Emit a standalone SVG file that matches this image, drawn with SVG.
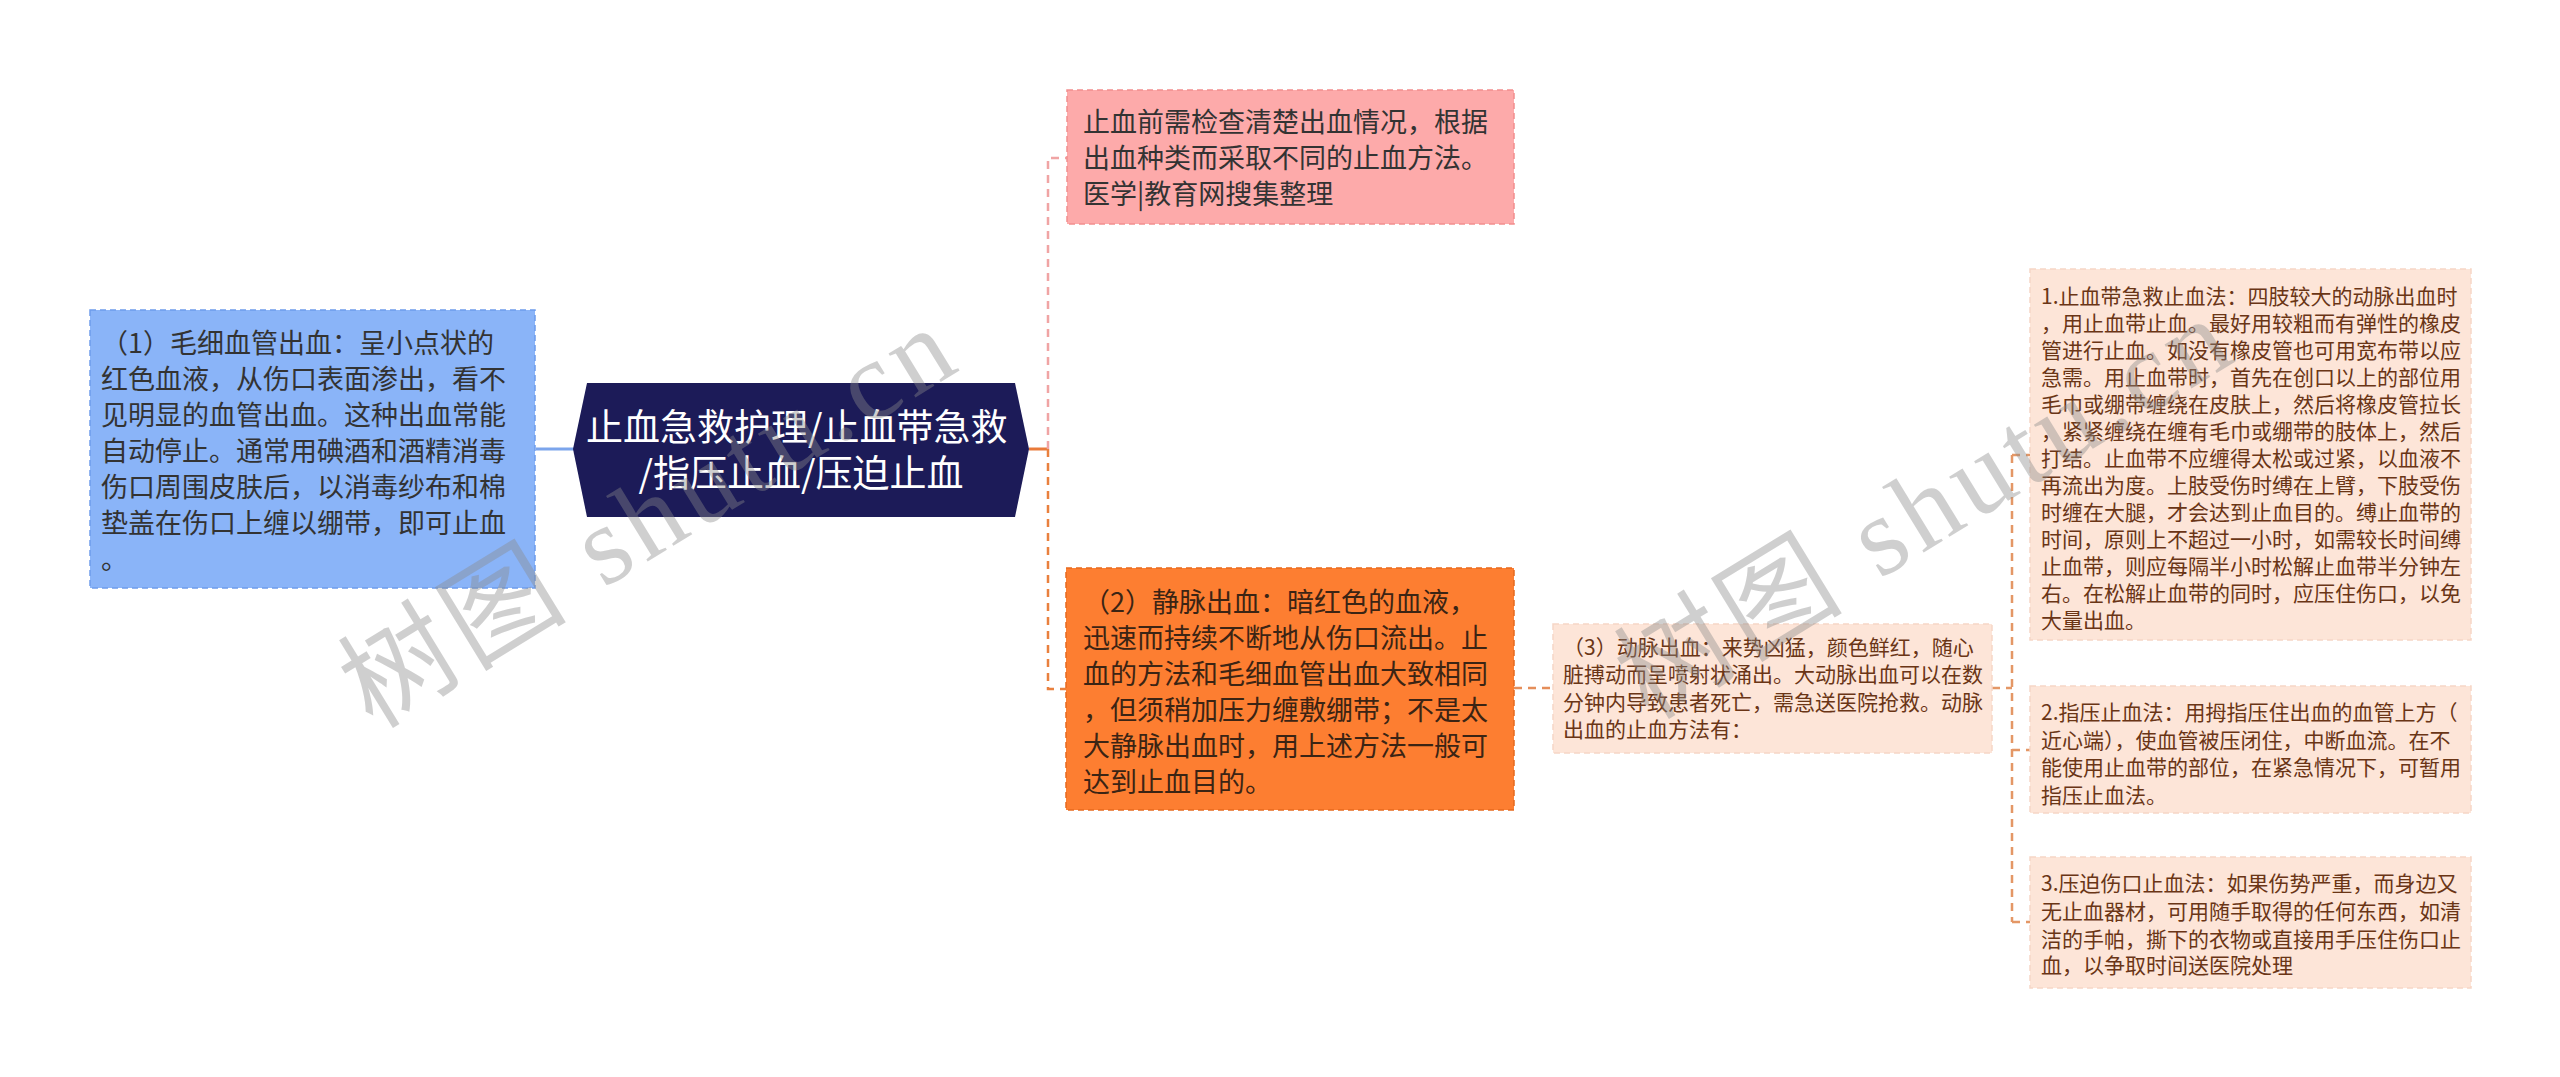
<svg xmlns="http://www.w3.org/2000/svg" width="2560" height="1077" viewBox="0 0 2560 1077">
<style>
text{font-family:"Noto Sans CJK SC","Noto Sans",sans-serif;}
.t27{font-size:27px;}
.t21{font-size:21px;fill:#6a3516;}
.dark{fill:#333333;}
.conn{fill:none;stroke-width:2.5;stroke-dasharray:8 6;}
.box{stroke-width:1.5;stroke-dasharray:6 4;}
.wm{font-family:"Liberation Serif","Noto Sans CJK SC",serif;font-size:112px;fill:#8a8a8a;opacity:0.4;}
</style>
<rect width="2560" height="1077" fill="#ffffff"/>
<g id="connectors">
<line x1="536" y1="449" x2="574" y2="449" stroke="#7ca5ec" stroke-width="3"/>
<line x1="1029" y1="449" x2="1048" y2="449" stroke="#e97a3a" stroke-width="3"/>
<path class="conn" d="M1048 449 V158 H1068" stroke="#f0a4a4"/>
<path class="conn" d="M1048 449 V689 H1066" stroke="#e9803e"/>
<path class="conn" d="M1514 688 H1553" stroke="#e58e5a"/>
<path class="conn" d="M1992 688 H2012" stroke="#e49766"/>
<path class="conn" d="M2012 455 V922" stroke="#e49766"/>
<path class="conn" d="M2012 455 H2030 M2012 750 H2030 M2012 922 H2030" stroke="#e49766"/>
</g>
<g id="node-left">
<rect class="box" x="90" y="310" width="445" height="278" fill="#8ab4f8" stroke="#6e9cec"/>
<text class="t27 dark">
<tspan x="101" y="353">（1）毛细血管出血：呈小点状的</tspan>
<tspan x="101" y="389">红色血液，从伤口表面渗出，看不</tspan>
<tspan x="101" y="425">见明显的血管出血。这种出血常能</tspan>
<tspan x="101" y="461">自动停止。通常用碘酒和酒精消毒</tspan>
<tspan x="101" y="497">伤口周围皮肤后，以消毒纱布和棉</tspan>
<tspan x="101" y="533">垫盖在伤口上缠以绷带，即可止血</tspan>
<tspan x="101" y="569">。</tspan>
</text>
</g>
<g id="node-center">
<polygon points="573,449 587,383 1015,383 1029,449 1015,517 587,517" fill="#1c1b58"/>
<text font-size="37" fill="#ffffff" text-anchor="middle">
<tspan x="801" y="441">止血急救护理/止血带急救</tspan>
<tspan x="801" y="487">/指压止血/压迫止血</tspan>
</text>
</g>
<g id="node-pink">
<rect class="box" x="1067" y="90" width="447" height="134" fill="#fdaaaa" stroke="#f28f8f"/>
<text class="t27 dark">
<tspan x="1083" y="132">止血前需检查清楚出血情况，根据</tspan>
<tspan x="1083" y="168">出血种类而采取不同的止血方法。</tspan>
<tspan x="1083" y="204">医学|教育网搜集整理</tspan>
</text>
</g>
<g id="node-orange">
<rect class="box" x="1066" y="568" width="448" height="242" fill="#fd7e31" stroke="#e66a1e"/>
<text class="t27" fill="#3b2414">
<tspan x="1083" y="612">（2）静脉出血：暗红色的血液，</tspan>
<tspan x="1083" y="648">迅速而持续不断地从伤口流出。止</tspan>
<tspan x="1083" y="684">血的方法和毛细血管出血大致相同</tspan>
<tspan x="1083" y="720">，但须稍加压力缠敷绷带；不是太</tspan>
<tspan x="1083" y="756">大静脉出血时，用上述方法一般可</tspan>
<tspan x="1083" y="792">达到止血目的。</tspan>
</text>
</g>
<g id="node-artery">
<rect class="box" x="1553" y="624" width="439" height="129" fill="#fde5d8" stroke="#f6d6c6"/>
<text class="t21">
<tspan x="1563" y="655">（3）动脉出血：来势凶猛，颜色鲜红，随心</tspan>
<tspan x="1563" y="682">脏搏动而呈喷射状涌出。大动脉出血可以在数</tspan>
<tspan x="1563" y="710">分钟内导致患者死亡，需急送医院抢救。动脉</tspan>
<tspan x="1563" y="737">出血的止血方法有：</tspan>
</text>
</g>
<g id="node-tourniquet">
<rect class="box" x="2030" y="269" width="441" height="371" fill="#fde5d8" stroke="#f6d6c6"/>
<text class="t21">
<tspan x="2041" y="304">1.止血带急救止血法：四肢较大的动脉出血时</tspan>
<tspan x="2041" y="331">，用止血带止血。最好用较粗而有弹性的橡皮</tspan>
<tspan x="2041" y="358">管进行止血。如没有橡皮管也可用宽布带以应</tspan>
<tspan x="2041" y="385">急需。用止血带时，首先在创口以上的部位用</tspan>
<tspan x="2041" y="412">毛巾或绷带缠绕在皮肤上，然后将橡皮管拉长</tspan>
<tspan x="2041" y="439">，紧紧缠绕在缠有毛巾或绷带的肢体上，然后</tspan>
<tspan x="2041" y="466">打结。止血带不应缠得太松或过紧，以血液不</tspan>
<tspan x="2041" y="493">再流出为度。上肢受伤时缚在上臂，下肢受伤</tspan>
<tspan x="2041" y="520">时缠在大腿，才会达到止血目的。缚止血带的</tspan>
<tspan x="2041" y="547">时间，原则上不超过一小时，如需较长时间缚</tspan>
<tspan x="2041" y="574">止血带，则应每隔半小时松解止血带半分钟左</tspan>
<tspan x="2041" y="601">右。在松解止血带的同时，应压住伤口，以免</tspan>
<tspan x="2041" y="628">大量出血。</tspan>
</text>
</g>
<g id="node-finger">
<rect class="box" x="2030" y="686" width="441" height="127" fill="#fde5d8" stroke="#f6d6c6"/>
<text class="t21">
<tspan x="2041" y="720">2.指压止血法：用拇指压住出血的血管上方（</tspan>
<tspan x="2041" y="748">近心端），使血管被压闭住，中断血流。在不</tspan>
<tspan x="2041" y="775">能使用止血带的部位，在紧急情况下，可暂用</tspan>
<tspan x="2041" y="803">指压止血法。</tspan>
</text>
</g>
<g id="node-press">
<rect class="box" x="2030" y="857" width="441" height="131" fill="#fde5d8" stroke="#f6d6c6"/>
<text class="t21">
<tspan x="2041" y="891">3.压迫伤口止血法：如果伤势严重，而身边又</tspan>
<tspan x="2041" y="919">无止血器材，可用随手取得的任何东西，如清</tspan>
<tspan x="2041" y="947">洁的手帕，撕下的衣物或直接用手压住伤口止</tspan>
<tspan x="2041" y="973">血，以争取时间送医院处理</tspan>
</text>
</g>
<g id="watermarks">
<text class="wm" x="648" y="555" text-anchor="middle" transform="rotate(-31.5 648 519)" textLength="690" lengthAdjust="spacing">树图 shutu.cn</text>
<text class="wm" x="1924" y="546" text-anchor="middle" transform="rotate(-31.5 1924 510)" textLength="690" lengthAdjust="spacing">树图 shutu.cn</text>
</g>
</svg>
